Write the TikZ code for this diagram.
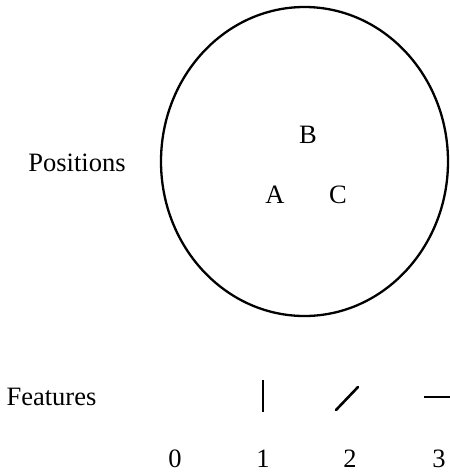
\documentclass[tikz,border=0pt]{standalone}
\usepackage{fontspec}
\setmainfont{Liberation Serif}

\begin{document}
\begin{tikzpicture}[
  x=1pt, y=-1pt,
  font=\fontsize{26.5}{31}\selectfont,
  label/.style={inner sep=0pt, anchor=center},
  ring/.style={draw=black, line width=2.3pt},
  stroke/.style={draw=black, line width=2.6pt}
]
\useasboundingbox (0,0) rectangle (450,472);

% positions
\draw[ring] (304.5,161.5) ellipse [x radius=143.5, y radius=154.5];
\node[label] (positions) at (77,163) {Positions};
\node[label] (posB) at (308,135) {B};
\node[label] (posA) at (275,195) {A};
\node[label] (posC) at (338,195) {C};

% features
\node[label] (features) at (51.5,397) {Features};
\coordinate (f1top) at (263,380);
\coordinate (f1bot) at (263,412);
\coordinate (f2low) at (336,410);
\coordinate (f2high) at (358,387);
\coordinate (f3left) at (424,397);
\coordinate (f3right) at (450,397);
\draw[stroke] (f1top) -- (f1bot);
\draw[stroke, line cap=round] (f2low) -- (f2high);
\draw[stroke] (f3left) -- (f3right);

% indices
\node[label] (num0) at (175,459) {0};
\node[label] (num1) at (263,459) {1};
\node[label] (num2) at (350,459) {2};
\node[label] (num3) at (439,459) {3};

\end{tikzpicture}
\end{document}
